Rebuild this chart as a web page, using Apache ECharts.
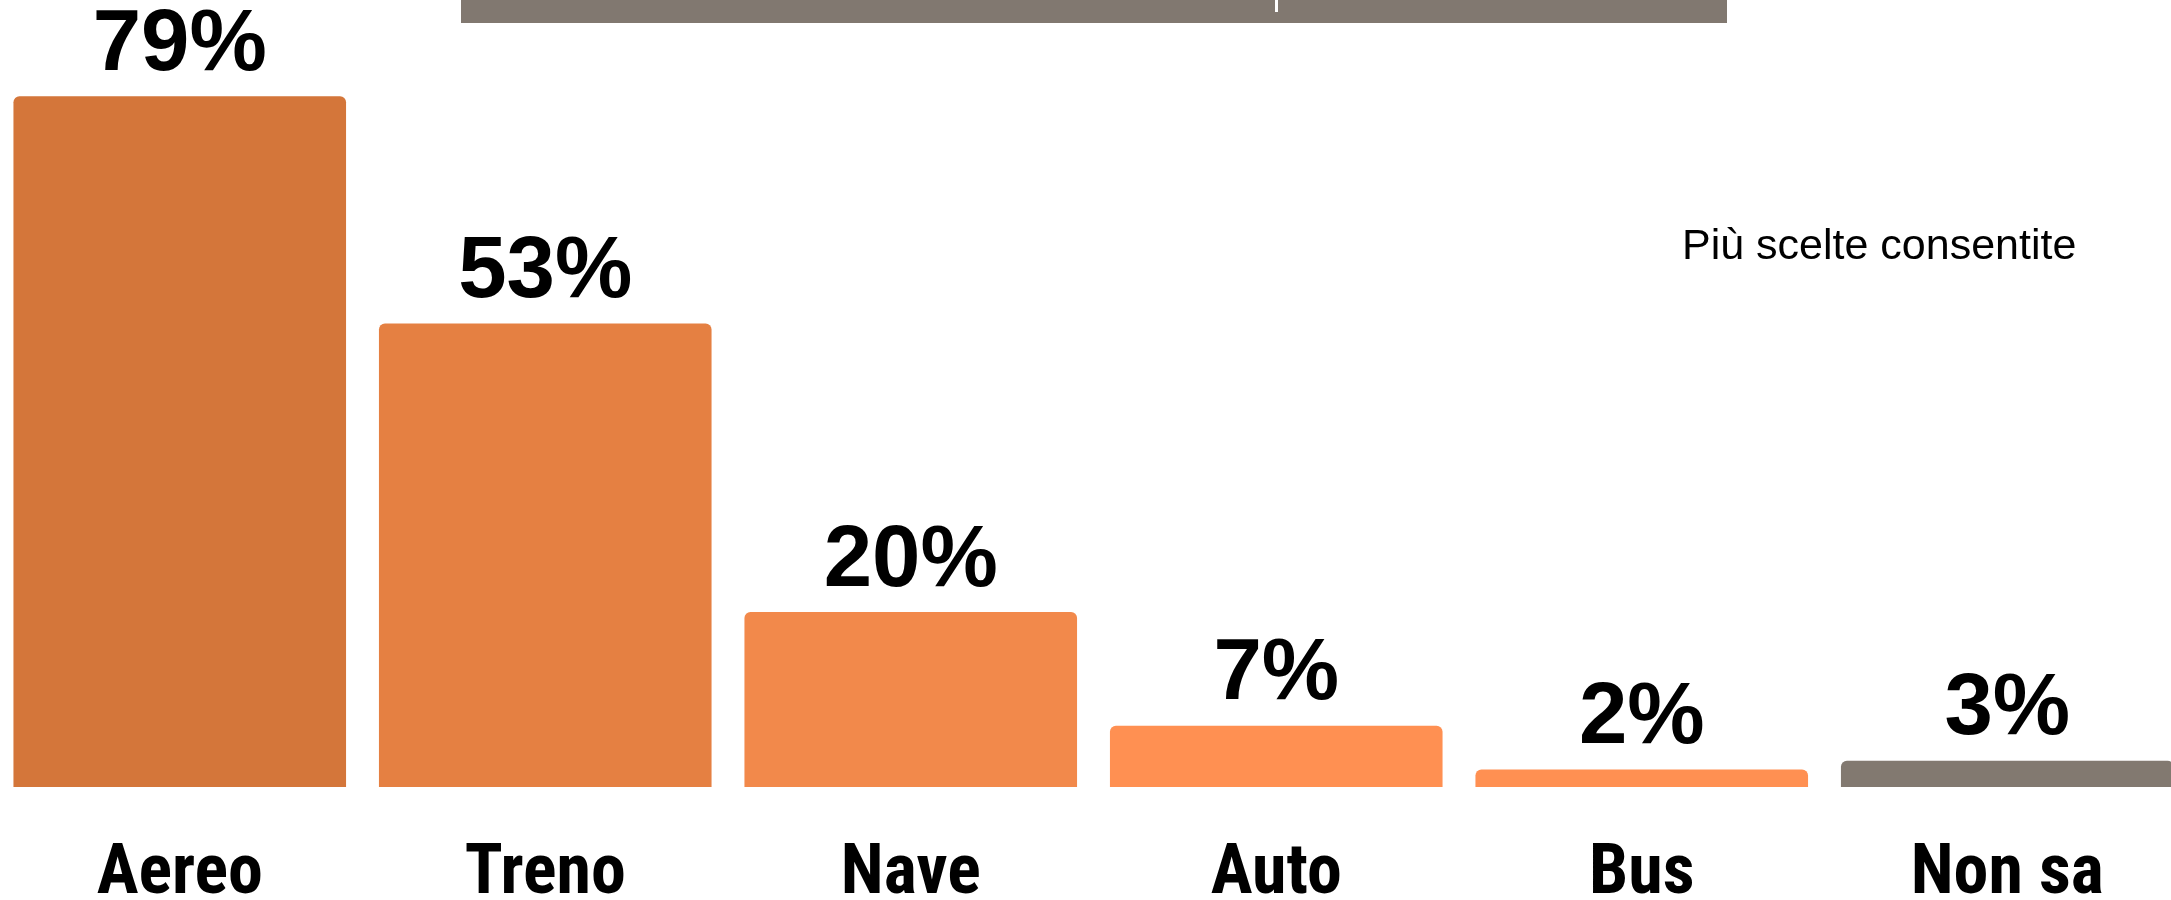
<!DOCTYPE html>
<html>
<head>
	<meta charset="utf-8">
	<title>Mezzo di trasporto</title>
	<script src="https://cdn.jsdelivr.net/npm/echarts@6/dist/echarts.min.js"></script>
	<style type="text/css">
		html, body { margin: 0; padding: 0; background-color: #fff; }
		#chartBox { width: 2171px; height: 900px; }
	</style>
</head>
<body>
<div id="chartBox"></div>

<script>
	// dati
	var categories = ['Aereo', 'Treno', 'Nave', 'Auto', 'Bus', 'Non sa'];
	var values = [79, 53, 20, 7, 2, 3];
	var note = 'Più scelte consentite';

	// colori delle barre
	var barColors = ['#d4763a', '#e58042', '#f2894b', '#ff9052', '#ff9052', '#827970'];

	var chart = echarts.init(document.getElementById('chartBox'));

	var seriesData = values.map(function (v, i) {
		return { value: v, itemStyle: { color: barColors[i] } };
	});

	var options = {
		animation: false,
		grid: { left: -3, right: -19, top: 0, bottom: 113, outerBoundsMode: 'none' },
		xAxis: {
			type: 'category',
			data: categories,
			axisLine: { show: false },
			axisTick: { show: false },
			axisLabel: {
				margin: 53,
				color: '#000',
				fontFamily: '"Liberation Sans Narrow", "Arial Narrow", "Roboto Condensed", "DejaVu Sans Condensed", sans-serif',
				fontWeight: 'bold',
				fontSize: 70
			}
		},
		yAxis: {
			type: 'value',
			min: 0,
			max: 90,
			show: false,
			splitLine: { show: false }
		},
		series: [{
			type: 'bar',
			data: seriesData,
			barCategoryGap: '9%',
			itemStyle: { borderRadius: [6, 6, 0, 0] },
			label: {
				show: true,
				position: 'top',
				distance: 7,
				formatter: '{c}%',
				color: '#000',
				fontFamily: '"Liberation Sans", Arial, sans-serif',
				fontWeight: 'bold',
				fontSize: 87
			}
		}],
		graphic: [
			// fascia grigia in alto
			{ type: 'rect', shape: { x: 461, y: 0, width: 1266, height: 23 }, style: { fill: '#817870' } },
			{ type: 'rect', shape: { x: 1275, y: 0, width: 3, height: 12 }, style: { fill: '#ffffff' } },
			{
				type: 'text',
				x: 1682,
				y: 247,
				style: {
					text: note,
					fill: '#000',
					font: '43px "Liberation Sans", Arial, sans-serif',
					textAlign: 'left',
					textVerticalAlign: 'middle'
				}
			}
		]
	};
	chart.setOption(options);
</script>
</body>
</html>
